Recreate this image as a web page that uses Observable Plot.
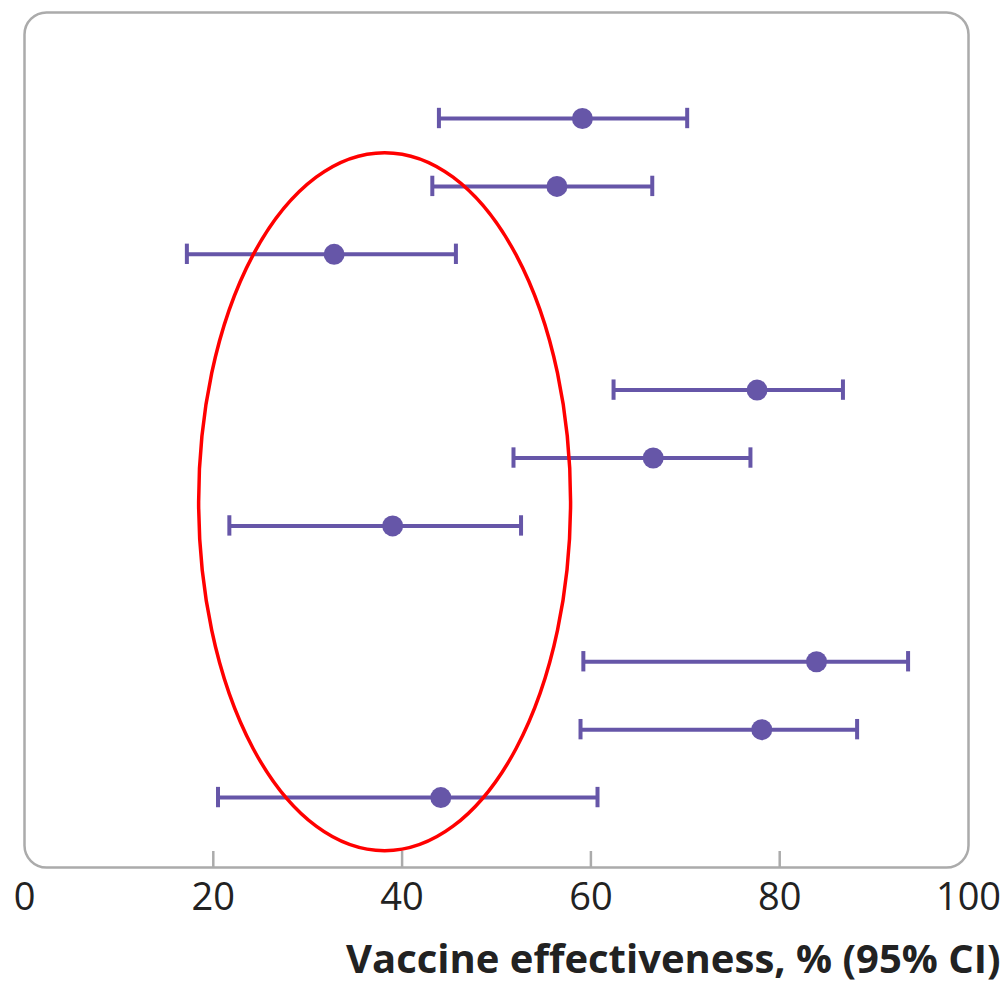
<!DOCTYPE html>
<html>
<head>
<meta charset="utf-8">
<script src="https://cdn.jsdelivr.net/npm/d3@7"></script>
<script src="https://cdn.jsdelivr.net/npm/@observablehq/plot@0.6"></script>
<style>
  html, body { margin: 0; padding: 0; background: #fff; }
  #chart svg { display: block; }
</style>
</head>
<body>
<div id="chart"></div>
<script>
// Three groups of three estimates each (top to bottom), separated by a blank row
const groups = ["Group 1", "Group 2", "Group 3"];
const outcomes = ["Outcome a", "Outcome b", "Outcome c"];
// Vaccine effectiveness point estimates (%) per group (rows in order)
const estimate = [
  [59.1, 56.4, 32.8],
  [77.6, 66.6, 39.0],
  [83.9, 78.1, 44.1]
];
const lower = [
  [43.9, 43.2, 17.2],
  [62.4, 51.8, 21.7],
  [59.2, 58.9, 20.5]
];
const upper = [
  [70.2, 66.5, 45.7],
  [86.7, 76.9, 52.6],
  [93.6, 88.2, 60.7]
];
const xTicks = [0, 20, 40, 60, 80, 100];
const innerTicks = [20, 40, 60, 80];
const xLabel = "Vaccine effectiveness, % (95% CI)";
// highlighted region (annotation ellipse): center and radii in data units
const highlight = {cx: 38.2, cy: 5.65, rx: 19.7, ry: 5.14};

const rows = [];
groups.forEach((g, gi) => outcomes.forEach((o, oi) => {
  rows.push({group: g, outcome: o, row: gi * 4 + oi,
    est: estimate[gi][oi], lo: lower[gi][oi], hi: upper[gi][oi]});
}));

const purple = "#6656a8";
const gray = "#ababab";

const plot = Plot.plot({
  width: 1007,
  height: 985,
  marginTop: 12,
  marginBottom: 118,
  marginLeft: 24,
  marginRight: 39,
  style: {fontFamily: "'Open Sans', sans-serif", color: "#222", background: "#fff"},
  x: {domain: [0, 100]},
  y: {domain: [-1.561, 11.03], reverse: true, axis: null},
  marks: [
    Plot.frame({stroke: gray, strokeWidth: 2.5, rx: 22}),
    Plot.ruleX(innerTicks, {stroke: gray, strokeWidth: 2.5, insetTop: 839}),
    Plot.axisX({ticks: xTicks, tickSize: 0, tickPadding: 16, fontSize: 38, label: null, fill: "#222"}),
    Plot.ruleY(rows, {y: "row", x1: "lo", x2: "hi", stroke: purple, strokeWidth: 4}),
    Plot.ruleX(rows, {x: "lo", y1: d => d.row - 0.15, y2: d => d.row + 0.15, stroke: purple, strokeWidth: 4}),
    Plot.ruleX(rows, {x: "hi", y1: d => d.row - 0.15, y2: d => d.row + 0.15, stroke: purple, strokeWidth: 4}),
    Plot.dot(rows, {x: "est", y: "row", r: 10.5, fill: purple, stroke: "none"}),
    Plot.text([xLabel], {text: d => d, frameAnchor: "bottom-right", dx: 32, dy: 105, lineAnchor: "bottom",
      textAnchor: "end", fontSize: 40, fontWeight: "bold", fill: "#222"})
  ]
});

// Red annotation ellipse positioned through the plot's scales
const sx = plot.scale("x"), sy = plot.scale("y");
const ecx = sx.apply(highlight.cx), ecy = sy.apply(highlight.cy);
const erx = Math.abs(sx.apply(highlight.cx + highlight.rx) - ecx);
const ery = Math.abs(sy.apply(highlight.cy + highlight.ry) - ecy);
d3.select(plot).append("ellipse")
  .attr("cx", ecx).attr("cy", ecy).attr("rx", erx).attr("ry", ery)
  .attr("fill", "none").attr("stroke", "#ff0000").attr("stroke-width", 3.5);

document.getElementById("chart").appendChild(plot);
</script>
</body>
</html>
